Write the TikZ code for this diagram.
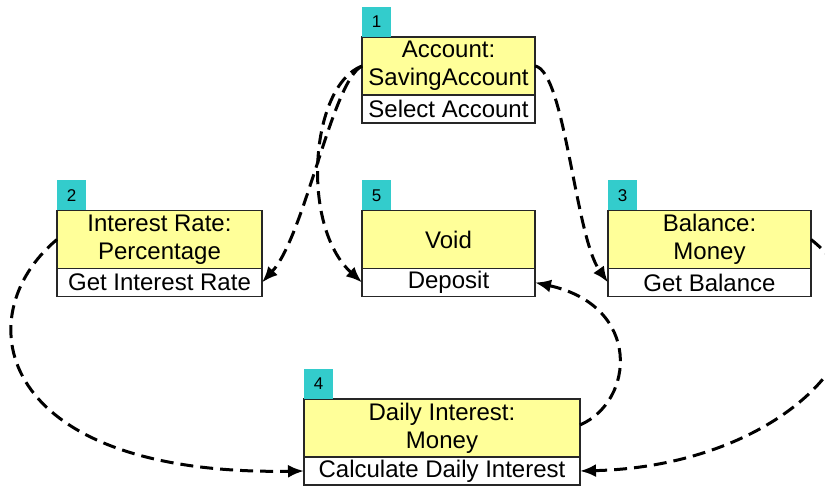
\documentclass[tikz,border=0pt]{standalone}
\usepackage{fontspec}
\setmainfont{Liberation Sans}
\usetikzlibrary{
    arrows.meta,
    positioning
}
\definecolor{classyellow}{RGB}{255,255,153}
\definecolor{tagteal}{RGB}{51,204,204}

\begin{document}
\begin{tikzpicture}[
    x=1pt, y=1pt,
    classnode/.style = {rectangle, draw=black!85, fill=classyellow, line width=1.3pt,
                        minimum width=#1, minimum height=58pt, inner sep=0pt,
                        outer sep=0pt, align=center, font=\fontsize{24}{28}\selectfont},
    opnode/.style    = {rectangle, draw=black!85, fill=white, line width=1.3pt,
                        minimum width=#1, minimum height=28pt, inner sep=0pt,
                        outer sep=0pt, font=\fontsize{24}{28}\selectfont},
    tagnode/.style   = {rectangle, fill=tagteal, minimum width=29pt, minimum height=30pt,
                        inner sep=0pt, outer sep=0pt, font=\fontsize{17}{17}\selectfont},
    flow/.style      = {-{Latex[length=16pt, width=13pt]}, line width=3pt,
                        dash pattern=on 13pt off 7pt},
]
    \useasboundingbox (0,0) rectangle (825,486);
    \clip (0,0) rectangle (825,486);

    %Nodes
    \node[classnode=173pt]  (account)   at (448.5,420)               {Account:\\SavingAccount};
    \node[opnode=173pt]     (select)    [below=0pt of account]       {Select Account};
    \node[tagnode]          (tagone)    [above right=0pt of account.north west] {1};

    \node[classnode=205pt]  (rate)      at (159.5,246.5)             {Interest Rate:\\Percentage};
    \node[opnode=205pt]     (getrate)   [below=0pt of rate]          {Get Interest Rate};
    \node[tagnode]          (tagtwo)    [above right=0pt of rate.north west] {2};

    \node[classnode=203pt]  (balance)   at (709.5,246.5)             {Balance:\\Money};
    \node[opnode=203pt]     (getbal)    [below=0pt of balance]       {Get Balance};
    \node[tagnode]          (tagthree)  [above right=0pt of balance.north west] {3};

    \node[classnode=276pt]  (daily)     at (442,58)                  {Daily Interest:\\Money};
    \node[opnode=276pt]     (calc)      [below=0pt of daily]         {Calculate Daily Interest};
    \node[tagnode]          (tagfour)   [above right=0pt of daily.north west] {4};

    \node[classnode=173pt]  (void)      at (448.5,246.5)             {Void};
    \node[opnode=173pt]     (deposit)   [below=0pt of void]          {Deposit};
    \node[tagnode]          (tagfive)   [above right=0pt of void.north west] {5};

    %Lines
    \draw[flow] (account.west) .. controls (332,405) and (305,250) .. (getrate.east);
    \draw[flow] (account.west) .. controls (310,400) and (300,260) .. (deposit.west);
    \draw[flow] (account.east) .. controls (565,415) and (575,250) .. (getbal.west);
    \draw[flow] ([yshift=3pt]daily.east) .. controls (635,85) and (642,180) .. (deposit.east);
    \draw[flow] (rate.west) .. controls (-35,170) and (-5,10) .. (calc.west);
    \draw[flow] (balance.east) .. controls (920,160) and (790,20) .. (calc.east);
\end{tikzpicture}
\end{document}
